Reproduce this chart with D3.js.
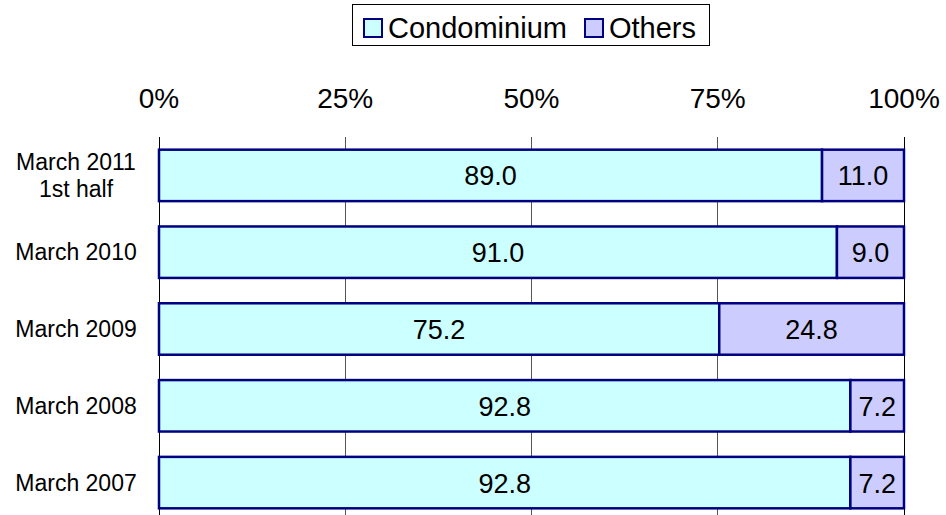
<!DOCTYPE html>
<html><head><meta charset="utf-8">
<script src="https://cdn.jsdelivr.net/npm/d3@7"></script>
<style>body{margin:0;background:#fff}svg{display:block;font-family:Arial,"Liberation Sans",sans-serif}</style>
</head><body><svg id="c" width="946" height="515"></svg>
<script>
const categories = [["March 2011","1st half"],["March 2010"],["March 2009"],["March 2008"],["March 2007"]];
const condominium = [89.0, 91.0, 75.2, 92.8, 92.8];
const others = [11.0, 9.0, 24.8, 7.2, 7.2];
const seriesNames = ["Condominium","Others"];
const tickValues = [0, 25, 50, 75, 100];
const colors = ["#CCFFFF","#CCCCFF"];
const stroke = "#000080";

const svg = d3.select("#c");
const x = d3.scaleLinear().domain([0,100]).range([159,904]);
const y = d3.scaleBand().domain(d3.range(categories.length)).range([137,521]).paddingInner(0.33).paddingOuter(0.165);

// gridlines
svg.append("g").selectAll("line").data(tickValues.slice(1)).join("line")
  .attr("x1",d=>x(d)).attr("x2",d=>x(d)).attr("y1",137).attr("y2",515)
  .attr("stroke",d=>d===100?"#000":"#555").attr("stroke-width",1).attr("shape-rendering","crispEdges");
// axis line
svg.append("line").attr("x1",x(0)).attr("x2",x(0)).attr("y1",137).attr("y2",515)
  .attr("stroke","#000").attr("stroke-width",1).attr("shape-rendering","crispEdges");

// tick labels
svg.append("g").selectAll("text").data(tickValues).join("text")
  .attr("x",d=>x(d)).attr("y",108).attr("text-anchor","middle")
  .attr("font-size",28).text(d=>d+"%");

const rows = categories.map((c,i)=>({c, v:[condominium[i], others[i]]}));
rows.forEach((r,i)=>{
  let start = 0;
  r.v.forEach((v,j)=>{
    const g = svg.append("g");
    g.append("rect").attr("x",x(start)).attr("y",y(i)).attr("width",x(start+v)-x(start)).attr("height",y.bandwidth())
      .attr("fill",colors[j]).attr("stroke",stroke).attr("stroke-width",2.5);
    g.append("text").attr("x",(x(start)+x(start+v))/2).attr("y",y(i)+y.bandwidth()/2+10)
      .attr("text-anchor","middle").attr("font-size",27).text(v.toFixed(1));
    start += v;
  });
  const t = svg.append("text").attr("text-anchor","middle").attr("font-size",23);
  const n = r.c.length;
  r.c.forEach((line,k)=>{
    t.append("tspan").attr("x",76).attr("y",y(i)+y.bandwidth()/2+8+(k-(n-1)/2)*27).text(line);
  });
});

// legend
const lg = svg.append("g");
lg.append("rect").attr("x",352.5).attr("y",4.5).attr("width",357).attr("height",41).attr("fill","#fff").attr("stroke","#000").attr("stroke-width",1);
const legX = [364, 585];
seriesNames.forEach((s,j)=>{
  lg.append("rect").attr("x",legX[j]).attr("y",19).attr("width",18).attr("height",18).attr("fill",colors[j]).attr("stroke",stroke).attr("stroke-width",2);
  lg.append("text").attr("x",legX[j]+24).attr("y",38).attr("font-size",29).text(s);
});
</script></body></html>
